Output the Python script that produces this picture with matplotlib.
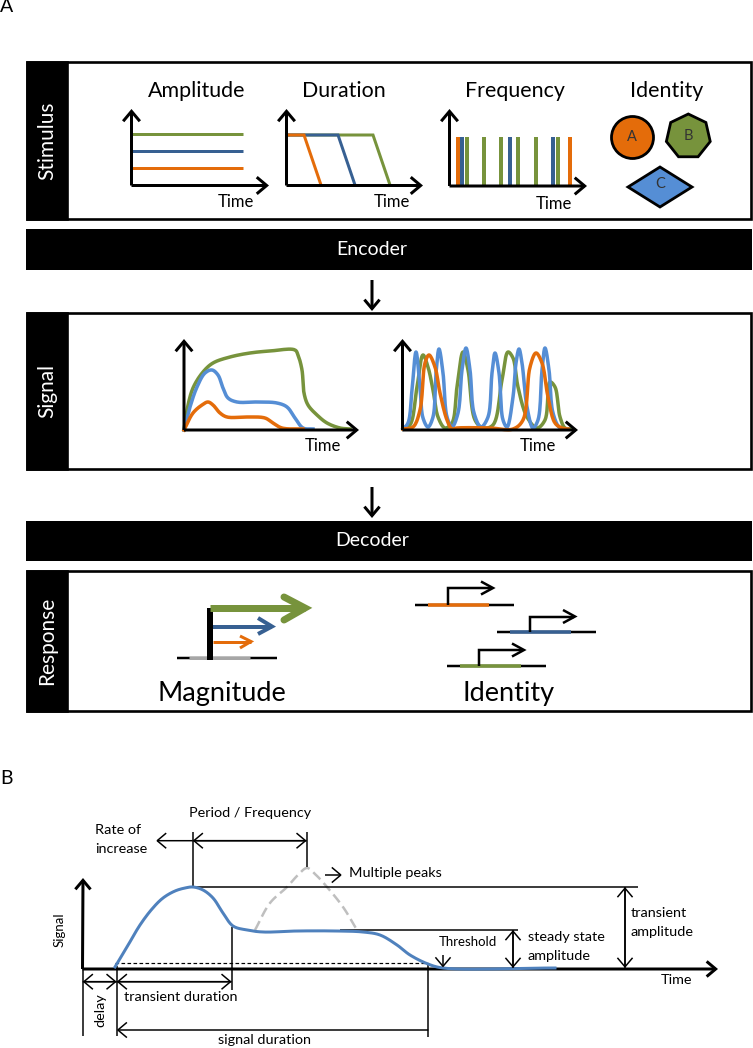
import numpy as np
import matplotlib
matplotlib.use("Agg")
import matplotlib.pyplot as plt
from matplotlib.patches import Rectangle, Circle, Polygon

plt.rcParams['font.family'] = ['Lato', 'DejaVu Sans']

ORANGE = '#E46C0A'
DARK_BLUE = '#376092'
BLUE = '#558ED5'
GREEN = '#77933C'
GRAY = '#A6A6A6'

# all readings below are in picture pixels (x, y)
panel_names = ['Stimulus', 'Signal', 'Response']
panel_tops = [62, 313, 571]
panel_bottoms = [219, 469, 711]
bar_names = ['Encoder', 'Decoder']
bar_tops = [229, 521]
bar_bottoms = [270, 561]

stim_titles = ['Amplitude', 'Duration', 'Frequency', 'Identity']
stim_title_x = [197, 344, 515, 667]

amp_levels = [134, 151, 168]
amp_colors = [GREEN, DARK_BLUE, ORANGE]

dur_level = 135
dur_fall_start = [373, 338, 304]
dur_fall_end = [390, 355, 321]
dur_colors = [GREEN, DARK_BLUE, ORANGE]

freq_orange = [458, 570]
freq_blue = [462, 510, 553]
freq_green = [467, 484, 501, 518, 536, 558]

sig1_green = [(184, 430), (187, 410), (193, 388), (203, 372), (213, 363), (230, 357), (250, 353),
              (270, 351), (295, 350), (298, 355), (302, 370), (304, 393), (308, 405), (317, 415),
              (327, 423), (340, 428), (350, 429)]
sig1_blue = [(184, 430), (190, 407), (197, 387), (205, 373), (212, 370), (218, 375), (223, 388),
             (228, 398), (237, 402), (257, 402), (277, 403), (287, 407), (295, 418), (303, 428),
             (313, 429)]
sig1_orange = [(184, 430), (193, 413), (202, 405), (208, 402), (213, 405), (220, 413), (227, 417),
               (247, 417), (265, 418), (273, 423), (282, 428), (303, 429)]

sig2_blue = [(403, 429), (408, 423), (412, 390), (416, 352), (420, 387), (423, 418), (428, 427),
             (433, 417), (436, 373), (439, 349), (443, 373), (447, 417), (452, 427), (458, 413),
             (462, 370), (466, 348), (470, 370), (474, 413), (481, 427), (488, 417), (492, 373),
             (495, 353), (499, 373), (503, 420), (507, 427), (513, 397), (516, 363), (519, 349),
             (522, 363), (527, 407), (533, 428), (538, 420), (542, 370), (545, 348), (549, 370),
             (553, 413), (560, 428), (567, 429)]
sig2_green = [(403, 429), (410, 425), (417, 387), (423, 355), (428, 367), (433, 390), (438, 417),
              (445, 428), (452, 423), (457, 387), (463, 352), (468, 370), (475, 420), (483, 428),
              (493, 425), (502, 380), (508, 352), (513, 358), (518, 387), (527, 417), (537, 428),
              (545, 420), (550, 382), (555, 387), (560, 417), (565, 428), (570, 429)]
sig2_orange = [(403, 429), (413, 427), (420, 410), (425, 363), (429, 355), (435, 367), (440, 393),
               (447, 420), (452, 429), (457, 428), (490, 428), (513, 429), (523, 420), (530, 367),
               (536, 353), (542, 363), (548, 397), (555, 423), (562, 428), (568, 429)]

pulse_curve = [(115, 967), (127, 947), (140, 925), (152, 909), (163, 898), (175, 891), (185, 888),
               (193, 887), (203, 890), (213, 898), (223, 913), (233, 926), (247, 930), (263, 932),
               (297, 931), (337, 931), (363, 932), (380, 935), (397, 945), (410, 955), (428, 964),
               (443, 968), (555, 968)]
second_peak = [(255, 930), (270, 903), (287, 887), (298, 875), (307, 868), (316, 875), (327, 887),
               (343, 907), (357, 930)]

fig = plt.figure(figsize=(7.53, 10.48), dpi=100)
ax = fig.add_axes([0, 0, 1, 1])
ax.set_xlim(0, 753)
ax.set_ylim(1048, 0)
ax.axis('off')


def smooth(points, n=12):
    # centripetal Catmull-Rom through the points
    pts = np.array(points, dtype=float)
    out = []
    for i in range(len(pts) - 1):
        p1, p2 = pts[i], pts[i + 1]
        d = np.linalg.norm(p2 - p1) ** 0.5
        if i > 0:
            p0 = pts[i - 1]
            d0 = np.linalg.norm(p1 - p0) ** 0.5
            m1 = d * ((p1 - p0) / d0 - (p2 - p0) / (d0 + d) + (p2 - p1) / d)
        else:
            m1 = p2 - p1
        if i < len(pts) - 2:
            p3 = pts[i + 2]
            d2 = np.linalg.norm(p3 - p2) ** 0.5
            m2 = d * ((p2 - p1) / d - (p3 - p1) / (d + d2) + (p3 - p2) / d2)
        else:
            m2 = p2 - p1
        for t in np.linspace(0, 1, n, endpoint=False):
            out.append((2 * t ** 3 - 3 * t ** 2 + 1) * p1 + (t ** 3 - 2 * t ** 2 + t) * m1
                       + (-2 * t ** 3 + 3 * t ** 2) * p2 + (t ** 3 - t ** 2) * m2)
    out.append(pts[-1])
    return np.array(out)


def line(xs, ys, color='black', px=1.5, **kw):
    kw.setdefault('solid_capstyle', 'butt')
    ax.plot(xs, ys, color=color, lw=px * 0.72, **kw)


def arrow(x0, y0, x1, y1, color='black', px=1.5, style='->', head=5.0):
    ax.annotate('', xy=(x1, y1), xytext=(x0, y0),
                arrowprops=dict(arrowstyle=f'{style},head_length=0.5,head_width=0.42', color=color,
                                lw=px * 0.72, shrinkA=0, shrinkB=0, mutation_scale=head * 2.6,
                                joinstyle='miter', capstyle='butt'))


def axes_l(x0, y0, top, right):
    arrow(x0, y0, x0, top, px=3, head=5.5)
    arrow(x0, y0, right, y0, px=3, head=5.5)


def label(x, y, s, size=11, color='black', ha='center', rotation=0):
    ax.text(x, y, s, fontsize=size, color=color, ha=ha, va='center', rotation=rotation)


# boxed panels
for name, top, bottom in zip(panel_names, panel_tops, panel_bottoms):
    ax.add_patch(Rectangle((27, top), 724, bottom - top, fc='white', ec='black', lw=1.9))
    ax.add_patch(Rectangle((27, top), 40, bottom - top, fc='black', ec='black', lw=1.9))
    label(47, (top + bottom) / 2, name, size=15, color='white', rotation=90)

for name, top, bottom in zip(bar_names, bar_tops, bar_bottoms):
    ax.add_patch(Rectangle((26, top), 726, bottom - top, fc='black', ec='none'))
    label(372, (top + bottom) / 2, name, size=14, color='white')

arrow(372, 280, 372, 311, px=3, head=5)
arrow(372, 487, 372, 518, px=3, head=5)

label(7, 7, 'A', size=14)
label(7, 778, 'B', size=14)

# stimulus panel
for s, x in zip(stim_titles, stim_title_x):
    label(x, 91, s, size=15.4)

for level, c in zip(amp_levels, amp_colors):
    line([131, 243], [level, level], color=c, px=3)
axes_l(131.5, 185.5, 109, 269)
label(236, 202, 'Time', size=12)

for x0, x1, c in zip(dur_fall_start, dur_fall_end, dur_colors):
    line([288, x0, x1], [dur_level, dur_level, 185], color=c, px=3, solid_joinstyle='miter')
axes_l(286.5, 185.5, 109, 423)
label(392, 202, 'Time', size=12)

for xs, c in zip([freq_orange, freq_blue, freq_green], [ORANGE, DARK_BLUE, GREEN]):
    ax.vlines(xs, 137, 186, color=c, lw=4 * 0.72, zorder=2)
axes_l(449.5, 186, 109, 587)
label(554, 204, 'Time', size=12)

ax.add_patch(Circle((632.5, 137.5), 21, fc=ORANGE, ec='black', lw=2))
angles = np.deg2rad(-90 + np.arange(7) * 360 / 7)
ax.add_patch(Polygon(np.c_[688.3 + 22.5 * np.cos(angles), 136.5 + 22.5 * np.sin(angles)],
                     fc=GREEN, ec='black', lw=2))
ax.add_patch(Polygon([(628, 187), (660, 167), (692, 187), (660, 207)], fc=BLUE, ec='black', lw=2))
label(632, 137, 'A', size=10.5, color='#333333')
label(688, 136, 'B', size=10.5, color='#333333')
label(660, 184, 'C', size=10.5, color='#333333')

# signal panel
for pts, c in zip([sig1_green, sig1_blue, sig1_orange], [GREEN, BLUE, ORANGE]):
    xy = smooth(pts)
    ax.plot(xy[:, 0], xy[:, 1], color=c, lw=3.5 * 0.72, zorder=3)
axes_l(184, 430, 339, 359)
label(323, 446, 'Time', size=12)

for pts, c in zip([sig2_green, sig2_blue, sig2_orange], [GREEN, BLUE, ORANGE]):
    xy = smooth(pts)
    ax.plot(xy[:, 0], xy[:, 1], color=c, lw=3.5 * 0.72, zorder=3)
axes_l(402.5, 430, 339, 578)
label(538, 446, 'Time', size=12)

# response panel, magnitude
line([177, 277], [658, 658], px=2.5)
line([189, 250], [658, 658], color=GRAY, px=3)
line([210, 210], [608, 660], px=6)
line([210, 305], [608, 608], color=GREEN, px=7)
line([284, 305, 284], [597, 608, 620], color=GREEN, px=7, solid_joinstyle='miter', solid_capstyle='round')
line([213, 272], [626.5, 626.5], color=DARK_BLUE, px=4)
line([258, 272, 258], [618, 626.5, 634], color=DARK_BLUE, px=4, solid_joinstyle='miter')
line([213, 251], [641.5, 641.5], color=ORANGE, px=3)
line([240, 251, 240], [636, 641.5, 648], color=ORANGE, px=3, solid_joinstyle='miter')
label(222, 693, 'Magnitude', size=19.5)

# response panel, identity
gene_left = [415, 497, 447]
gene_y = [604.5, 631.5, 666]
gene_colors = [ORANGE, DARK_BLUE, GREEN]
tss_x = [448, 530, 479]
tss_top = [588, 616.5, 650]
for x, y, c, tx, ty in zip(gene_left, gene_y, gene_colors, tss_x, tss_top):
    line([x, x + 99], [y, y], px=2.5)
    line([x + 13, x + 74], [y, y], color=c, px=3.5)
    line([tx, tx, tx + 44], [y, ty, ty], px=2.5, solid_joinstyle='miter')
    line([tx + 33, tx + 45, tx + 33], [ty - 6.5, ty, ty + 6.5], px=2.5, solid_joinstyle='miter')
label(509, 693, 'Identity', size=19.5)

# panel B
xy = smooth(second_peak)
ax.plot(xy[:, 0], xy[:, 1], color='#BFBFBF', lw=2.5 * 0.72, ls=(0, (4, 2)), zorder=2)
line([115, 428], [963, 963], px=1.2, ls=(0, (3, 2)))
arrow(82.5, 969, 83, 878, px=3, head=5)
arrow(82.5, 969, 718, 969, px=3, head=5)
xy = smooth(pulse_curve)
ax.plot(xy[:, 0], xy[:, 1], color='#4F81BD', lw=3 * 0.72, zorder=3)

line([192.7, 192.7], [832, 887])
line([306.7, 306.7], [832, 867])
line([193, 638], [887.3, 887.3])
line([340, 518], [930, 930])
line([231.7, 231.7], [927, 990])
line([82.7, 82.7], [968, 1036])
line([116.7, 116.7], [966, 1036])
line([428.3, 428.3], [963, 1037])

arrow(192.7, 840.7, 156, 840.7)
arrow(306.7, 840.7, 192.7, 840.7)
arrow(192.7, 840.7, 306.7, 840.7)
arrow(116.7, 981.7, 82.7, 981.7)
arrow(82.7, 981.7, 116.7, 981.7)
arrow(231.7, 981.7, 116.7, 981.7)
arrow(116.7, 981.7, 231.7, 981.7)
arrow(428.3, 1030, 116.7, 1030)
arrow(325, 875, 342, 875)
arrow(443, 955, 443, 967.5)
arrow(513, 968, 513, 930)
arrow(513, 930, 513, 968)
arrow(625, 968, 625, 887)
arrow(625, 887, 625, 968)

label(250, 813, 'Period / Frequency', size=10.4)
label(95, 830, 'Rate of', size=10.4, ha='left')
label(95, 849, 'increase', size=10.4, ha='left')
label(349, 873, 'Multiple peaks', size=10.4, ha='left')
label(439, 942, 'Threshold', size=9.5, ha='left')
label(528, 937, 'steady state', size=10.4, ha='left')
label(528, 956, 'amplitude', size=10.4, ha='left')
label(631, 913, 'transient', size=10.4, ha='left')
label(631, 932, 'amplitude', size=10.4, ha='left')
label(677, 980, 'Time', size=10.4)
label(60, 930, 'Signal', size=9.5, rotation=90)
label(100, 1010, 'delay', size=10.4, rotation=90)
label(124, 997, 'transient duration', size=10.4, ha='left')
label(265, 1040, 'signal duration', size=10.4)

fig.savefig('out.png', dpi=100, facecolor='white')
